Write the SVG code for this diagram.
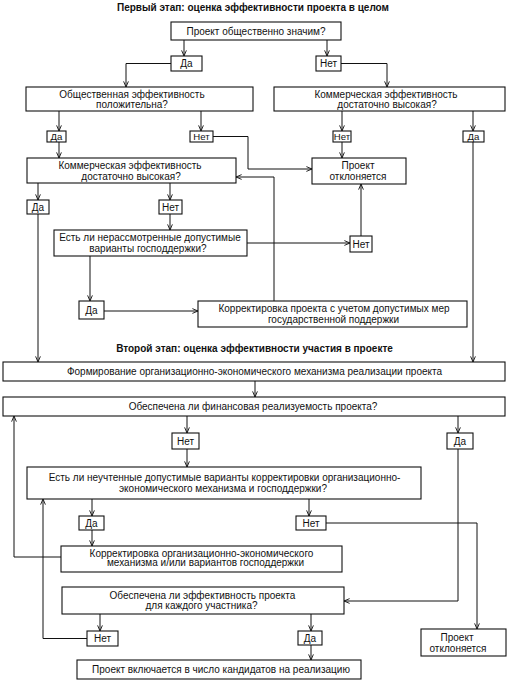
<svg xmlns="http://www.w3.org/2000/svg" width="508" height="684" viewBox="0 0 508 684">
<defs>
<marker id="a" viewBox="0 0 8 8" refX="8" refY="4" markerWidth="6" markerHeight="6" orient="auto" markerUnits="userSpaceOnUse">
<path d="M0.5,0.8 L8,4 L0.5,7.2" fill="none" stroke="#111" stroke-width="1.2"/>
</marker>
<style>
rect{fill:#fff;stroke:#111;stroke-width:1.1}
text{font-family:"Liberation Sans",Arial,sans-serif;font-size:10px;fill:#111;text-anchor:middle}
.t{font-weight:bold;font-size:10px}
.s{font-size:9.6px}
#conn path{fill:none;stroke:#111;stroke-width:1;marker-end:url(#a)}
</style>
</defs>
<rect x="0" y="0" width="508" height="684" style="fill:#fff;stroke:none"/>
<text class="t" x="253" y="10.5">Первый этап: оценка эффективности проекта в целом</text>
<text class="t" x="254.5" y="351.5">Второй этап: оценка эффективности участия в проекте</text>

<g id="conn">
<path d="M184,40V56"/>
<path d="M171,63.5H126V87"/>
<path d="M327,40V56"/>
<path d="M341,63.5H387V87"/>
<path d="M59,111V131"/>
<path d="M59,142V158"/>
<path d="M201,111V131"/>
<path d="M213,136.5H248V169H312"/>
<path d="M342,111V131"/>
<path d="M342,142V158"/>
<path d="M473,111V131"/>
<path d="M473,142V362"/>
<path d="M38,183V200"/>
<path d="M38,214V362"/>
<path d="M170,183V200"/>
<path d="M170,214V230"/>
<path d="M247,243H350"/>
<path d="M361,236V184"/>
<path d="M90,256V301"/>
<path d="M104,311H198"/>
<path d="M274,301V177H236"/>
<path d="M255,381V397"/>
<path d="M187,416V433"/>
<path d="M187,449V467"/>
<path d="M458,416V433"/>
<path d="M458,449V601H344"/>
<path d="M92,499V516"/>
<path d="M92,530V546"/>
<path d="M309,499V516"/>
<path d="M326,523H477V629"/>
<path d="M61,557H14V416"/>
<path d="M87,638.5H43V499"/>
<path d="M100,614V631"/>
<path d="M311,614V631"/>
<path d="M311,645V660"/>
</g>

<g id="n1"><rect x="171" y="22" width="170" height="18"/><text x="256" y="34.5">Проект общественно значим?</text></g>
<g id="n2"><rect x="171" y="56" width="31" height="15"/><text x="186.5" y="67">Да</text></g>
<g id="n3"><rect x="316" y="56" width="25" height="15"/><text x="328.5" y="67">Нет</text></g>
<g id="n4"><rect x="26" y="87" width="227" height="24"/><text x="132" y="97.5">Общественная эффективность</text><text x="132" y="108">положительна?</text></g>
<g id="n5"><rect x="274" y="87" width="231" height="24"/><text x="386" y="97.5">Коммерческая эффективность</text><text x="387" y="108">достаточно высокая?</text></g>
<g id="n6"><rect x="47" y="131" width="19" height="11"/><text class="s" x="56.5" y="140">Да</text></g>
<g id="n7"><rect x="190" y="131" width="23" height="11"/><text class="s" x="201.5" y="140">Нет</text></g>
<g id="n8"><rect x="333" y="131" width="18" height="11"/><text class="s" x="342" y="140">Нет</text></g>
<g id="n9"><rect x="463" y="131" width="21" height="11"/><text class="s" x="473.5" y="140">Да</text></g>
<g id="n10"><rect x="27" y="158" width="209" height="25"/><text x="130" y="169">Коммерческая эффективность</text><text x="131" y="180">достаточно высокая?</text></g>
<g id="n11"><rect x="312" y="158" width="94" height="26"/><text x="358" y="168.5">Проект</text><text x="358" y="180">отклоняется</text></g>
<g id="n12"><rect x="27" y="200" width="22" height="14"/><text x="38" y="210.5">Да</text></g>
<g id="n13"><rect x="159" y="200" width="23" height="14"/><text x="170.5" y="210.5">Нет</text></g>
<g id="n14"><rect x="54" y="230" width="193" height="26"/><text x="150" y="240.5">Есть ли нерассмотренные допустимые</text><text x="148" y="251.5">варианты господдержки?</text></g>
<g id="n15"><rect x="350" y="236" width="22" height="16"/><text x="361" y="247.5">Нет</text></g>
<g id="n16"><rect x="79" y="301" width="25" height="18"/><text x="91.5" y="313.5">Да</text></g>
<g id="n17"><rect x="198" y="301" width="269" height="26"/><text x="334" y="311.5">Корректировка проекта с учетом допустимых мер</text><text x="333.5" y="323">государственной поддержки</text></g>
<g id="n18"><rect x="3" y="362" width="502" height="19"/><text x="254.5" y="374.5">Формирование организационно-экономического механизма реализации проекта</text></g>
<g id="n19"><rect x="3" y="397" width="502" height="19"/><text x="253" y="410">Обеспечена ли финансовая реализуемость проекта?</text></g>
<g id="n20"><rect x="172" y="433" width="27" height="16"/><text x="185.5" y="444.5">Нет</text></g>
<g id="n21"><rect x="447" y="433" width="26" height="16"/><text x="460" y="444.5">Да</text></g>
<g id="n22"><rect x="27" y="467" width="394" height="32"/><text x="224.5" y="481">Есть ли неучтенные допустимые варианты корректировки организационно-</text><text x="223" y="492">экономического механизма и господдержки?</text></g>
<g id="n23"><rect x="79" y="516" width="25" height="14"/><text x="91.5" y="526.5">Да</text></g>
<g id="n24"><rect x="296" y="516" width="30" height="14"/><text x="311" y="526.5">Нет</text></g>
<g id="n25"><rect x="61" y="546" width="281" height="26"/><text x="201.5" y="556.5">Корректировка организационно-экономического</text><text x="205.5" y="566">механизма и/или вариантов господдержки</text></g>
<g id="n26"><rect x="62" y="587" width="282" height="27"/><text x="202.5" y="599">Обеспечена ли эффективность проекта</text><text x="201.5" y="609">для каждого участника?</text></g>
<g id="n27"><rect x="87" y="631" width="31" height="15"/><text x="102.5" y="642">Нет</text></g>
<g id="n28"><rect x="298" y="631" width="24" height="14"/><text x="310" y="641.5">Да</text></g>
<g id="n29"><rect x="421" y="629" width="85" height="27"/><text x="457" y="640.5">Проект</text><text x="458" y="652">отклоняется</text></g>
<g id="n30"><rect x="77" y="660" width="284" height="19"/><text x="221" y="673">Проект включается в число кандидатов на реализацию</text></g>
</svg>
